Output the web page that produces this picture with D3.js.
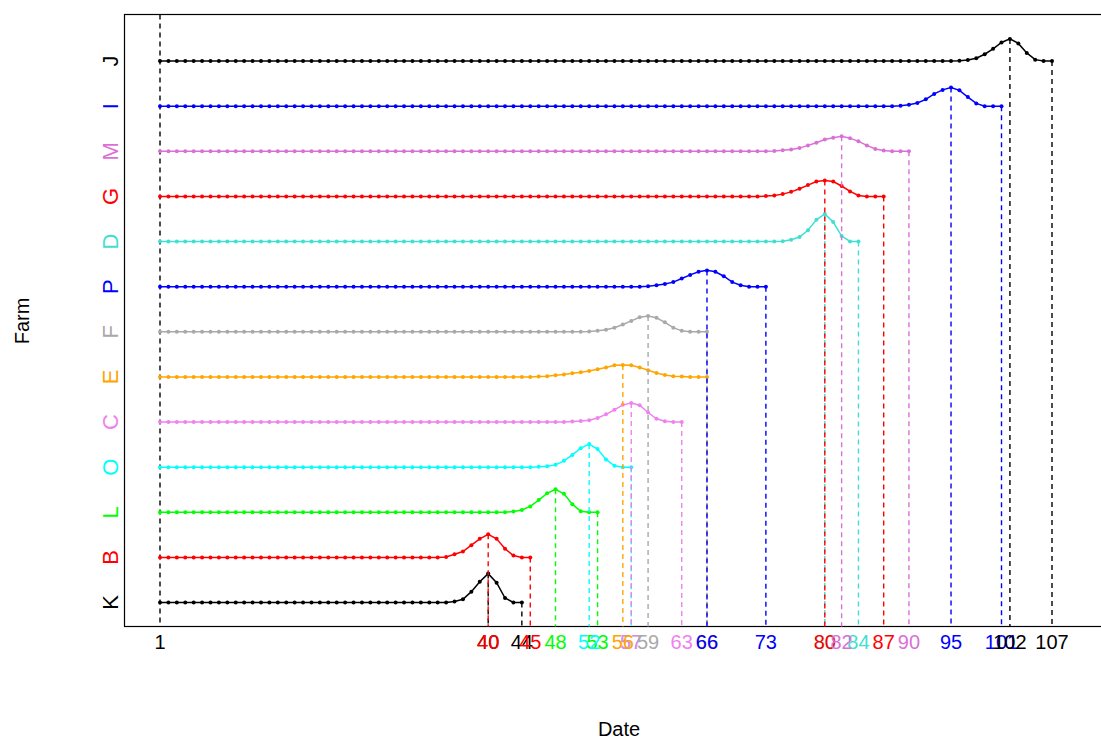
<!DOCTYPE html>
<html>
<head>
<meta charset="utf-8">
<script src="https://cdn.jsdelivr.net/npm/d3@7"></script>
<style>
  html, body { margin: 0; padding: 0; background: #fff; }
  svg { display: block; font-family: "Liberation Sans", Arial, sans-serif; }
</style>
</head>
<body>
<svg id="chart" width="1101" height="740"></svg>
<script>
// Farms, bottom row first
const farms = ["K", "B", "L", "O", "C", "E", "F", "P", "D", "G", "M", "I", "J"];
const farmColors = ["#000000", "#ff0000", "#00ff00", "#00ffff", "#ee82ee", "#ffa500",
                    "#a9a9a9", "#0000ff", "#40e0d0", "#ff0000", "#da70d6", "#0000ff", "#000000"];
// Date of the peak and last observed date for each farm
const peakDates = [40, 40, 48, 52, 57, 56, 59, 66, 80, 80, 82, 95, 102];
const endDates  = [44, 45, 53, 57, 63, 66, 66, 73, 84, 87, 90, 101, 107];
// First date of the rise; the curve is flat (0) before it and after the listed heights
const bumpStart = [36, 35, 43, 46, 50, 46, 52, 59, 75, 73, 74, 89, 96];
// Curve heights (in row units) from bumpStart onward
const bumpHeights = [
  [0.02, 0.07, 0.24, 0.46, 0.64, 0.44, 0.10],
  [0.01, 0.07, 0.13, 0.27, 0.41, 0.51, 0.41, 0.19, 0.04],
  [0.015, 0.05, 0.13, 0.27, 0.42, 0.51, 0.41, 0.18, 0.02],
  [0.01, 0.02, 0.05, 0.14, 0.27, 0.42, 0.51, 0.40, 0.17, 0.03],
  [0.01, 0.02, 0.04, 0.09, 0.17, 0.27, 0.38, 0.42, 0.37, 0.21, 0.07, 0.015],
  [0.01, 0.015, 0.035, 0.055, 0.08, 0.10, 0.13, 0.17, 0.21, 0.255, 0.265, 0.255, 0.21, 0.145, 0.085, 0.04, 0.015, 0.007],
  [0.007, 0.02, 0.045, 0.09, 0.16, 0.24, 0.32, 0.35, 0.31, 0.21, 0.09, 0.02],
  [0.007, 0.03, 0.06, 0.10, 0.18, 0.26, 0.33, 0.36, 0.33, 0.23, 0.10, 0.03],
  [0.007, 0.04, 0.10, 0.25, 0.48, 0.61, 0.43, 0.12],
  [0.007, 0.02, 0.05, 0.10, 0.17, 0.25, 0.33, 0.35, 0.33, 0.23, 0.11, 0.02],
  [0.007, 0.02, 0.04, 0.07, 0.13, 0.19, 0.26, 0.30, 0.33, 0.29, 0.22, 0.13, 0.05, 0.015],
  [0.007, 0.03, 0.07, 0.15, 0.27, 0.36, 0.41, 0.35, 0.20, 0.06],
  [0.007, 0.02, 0.06, 0.15, 0.27, 0.41, 0.49, 0.39, 0.18, 0.03]
];
const startDate = 1;

const svg = d3.select("#chart");
const frame = { left: 124.5, right: 1113, top: 14.5, bottom: 626.5 };

const x = d3.scaleLinear().domain([1, 107]).range([160, 1052]);
const y = d3.scaleLinear().domain([1, 13]).range([602.5, 61]);

// plot frame (right edge lies beyond the visible area)
svg.append("rect")
  .attr("x", frame.left).attr("y", frame.top)
  .attr("width", frame.right - frame.left).attr("height", frame.bottom - frame.top)
  .attr("fill", "none").attr("stroke", "#000").attr("stroke-width", 1.2);

// reference line at the first date
svg.append("line")
  .attr("x1", x(startDate)).attr("x2", x(startDate))
  .attr("y1", frame.top).attr("y2", frame.bottom)
  .attr("stroke", "#000").attr("stroke-width", 1.4).attr("stroke-dasharray", "5,4");

const labelY = 649;
svg.append("text")
  .attr("x", x(startDate)).attr("y", labelY)
  .attr("text-anchor", "middle").attr("font-size", 20).attr("fill", "#000")
  .text(startDate);

const line = d3.line().x(d => x(d.date)).y(d => y(d.level));

farms.forEach((farm, i) => {
  const row = i + 1;
  const color = farmColors[i];
  const heights = bumpHeights[i];
  const series = d3.range(startDate, endDates[i] + 1).map(date => {
    const k = date - bumpStart[i];
    const h = (k >= 0 && k < heights.length) ? heights[k] : 0;
    return { date, level: row + h };
  });

  const g = svg.append("g");
  g.append("path")
    .datum(series)
    .attr("d", line)
    .attr("fill", "none").attr("stroke", color).attr("stroke-width", 1.5);
  g.selectAll("circle")
    .data(series)
    .join("circle")
    .attr("cx", d => x(d.date)).attr("cy", d => y(d.level))
    .attr("r", 2).attr("fill", color);

  // drop lines from the peak and from the last date
  const peak = series.find(d => d.date === peakDates[i]);
  const last = series[series.length - 1];
  [peak, last].forEach(d => {
    g.append("line")
      .attr("x1", x(d.date)).attr("x2", x(d.date))
      .attr("y1", y(d.level)).attr("y2", frame.bottom)
      .attr("stroke", color).attr("stroke-width", 1.4).attr("stroke-dasharray", "5,4");
  });
  [peakDates[i], endDates[i]].forEach(date => {
    svg.append("text")
      .attr("x", x(date)).attr("y", labelY)
      .attr("text-anchor", "middle").attr("font-size", 20).attr("fill", color)
      .text(date);
  });

  // farm name on the left axis
  svg.append("text")
    .attr("transform", `translate(118,${y(row)}) rotate(-90)`)
    .attr("text-anchor", "middle").attr("font-size", 22).attr("fill", color)
    .text(farm);
});

// axis titles
svg.append("text")
  .attr("x", 619).attr("y", 736)
  .attr("text-anchor", "middle").attr("font-size", 20).attr("fill", "#000")
  .text("Date");
svg.append("text")
  .attr("transform", "translate(29,321) rotate(-90)")
  .attr("text-anchor", "middle").attr("font-size", 20).attr("fill", "#000")
  .text("Farm");
</script>
</body>
</html>
